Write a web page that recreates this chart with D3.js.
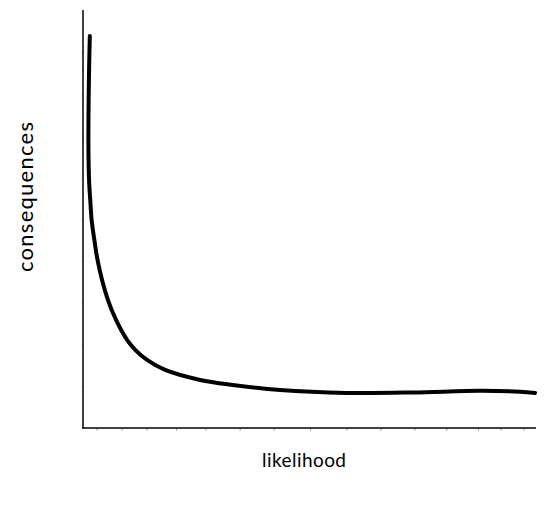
<!doctype html>
<html>
<head>
<meta charset="utf-8">
<title>likelihood vs consequences</title>
<script src="https://cdn.jsdelivr.net/npm/d3@7"></script>
<style>
  body { margin: 0; background: #fff; }
  .lbl { font-family: "Humor Sans", "Comic Sans MS", Lato, sans-serif; fill: #000; }
</style>
</head>
<body>
<script>
// curve (x: likelihood, y: consequences, both 0-100)
var likelihood   = [1.5, 1.3, 1.2, 1.35, 1.6, 1.9, 2.5, 3.2, 4.2, 5.5, 7.3, 9.7, 11.5, 14.1, 18.1, 25.8, 33.0, 43.4, 58.1, 72.7, 87.4, 96.3, 99.6];
var consequences = [93.8, 83.3, 66.5, 59.0, 54.5, 49.8, 45.0, 40.2, 35.4, 30.6, 25.8, 21.1, 18.7, 16.3, 13.9, 11.5, 10.3, 9.1, 8.4, 8.5, 8.9, 8.7, 8.4];
var xTicks = [3, 8.5, 14, 20.5, 27, 34.5, 42, 50, 58, 65.5, 73, 80, 87, 92, 97];
var yTicks = [10, 20, 30, 40, 50, 60, 70, 80, 90];

var width = 547, height = 509;
var margin = {top: 10, right: 10, bottom: 81, left: 83};
var w = width - margin.left - margin.right,
    h = height - margin.top - margin.bottom;

var x = d3.scaleLinear().domain([0, 100]).range([0, w]);
var y = d3.scaleLinear().domain([0, 100]).range([h, 0]);

var svg = d3.select("body").append("svg")
    .attr("width", width)
    .attr("height", height)
  .append("g")
    .attr("transform", "translate(" + margin.left + "," + margin.top + ")");

// faint ticks
svg.append("g")
    .attr("transform", "translate(0," + h + ")")
    .call(d3.axisBottom(x).tickValues(xTicks).tickSize(3).tickFormat(""))
    .call(function(g) {
      g.select(".domain").remove();
      g.selectAll("line").attr("stroke", "#aaa").attr("stroke-width", 1);
    });
svg.append("g")
    .call(d3.axisLeft(y).tickValues(yTicks).tickSize(2).tickFormat(""))
    .call(function(g) {
      g.select(".domain").remove();
      g.selectAll("line").attr("stroke", "#ddd").attr("stroke-width", 1);
    });

// axes lines
svg.append("line")
    .attr("x1", 0).attr("x2", 0).attr("y1", 0).attr("y2", h)
    .attr("stroke", "#000").attr("stroke-width", 1.5);
svg.append("line")
    .attr("x1", -1).attr("x2", w - 1).attr("y1", h).attr("y2", h)
    .attr("stroke", "#000").attr("stroke-width", 1.5);

// curve
var pts = likelihood.map(function(d, i) { return [d, consequences[i]]; });
var line = d3.line()
    .x(function(d) { return x(d[0]); })
    .y(function(d) { return y(d[1]); })
    .curve(d3.curveCatmullRom.alpha(0.5));

svg.append("path")
    .datum(pts)
    .attr("fill", "none")
    .attr("stroke", "#000")
    .attr("stroke-width", 4)
    .attr("stroke-linecap", "round")
    .attr("d", line);

// labels
d3.select("svg").append("text")
    .attr("class", "lbl")
    .attr("x", 304).attr("y", 467)
    .attr("text-anchor", "middle")
    .attr("textLength", 84)
    .style("font-size", "19px")
    .text("likelihood");

d3.select("svg").append("text")
    .attr("class", "lbl")
    .attr("transform", "translate(33,197) rotate(-90)")
    .attr("text-anchor", "middle")
    .attr("textLength", 150)
    .style("font-size", "22px")
    .text("consequences");
</script>
</body>
</html>
